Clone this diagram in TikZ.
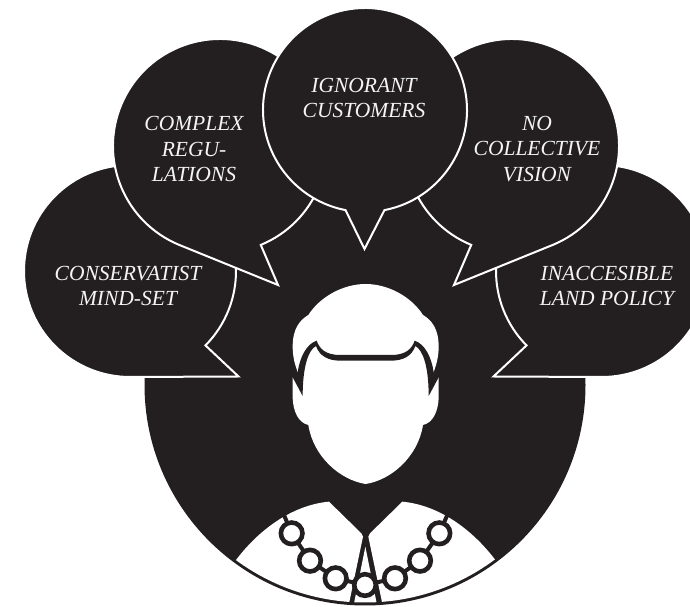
\documentclass[tikz,border=0pt]{standalone}
\usepackage{fontspec}
\setmainfont{Liberation Serif}
\definecolor{ink}{HTML}{231F20}
\definecolor{paper}{HTML}{F4F4F4}
\tikzset{
  bubble/.style={fill=ink,draw=white,line width=2pt,line join=miter,miter limit=20},
  label/.style={text=paper,align=center,inner sep=0pt,font=\itshape\fontsize{21.5}{25.6}\selectfont},
  bead/.style={fill=white,draw=ink,line width=4.6pt}
}
\begin{document}
\begin{tikzpicture}[x=1pt,y=1pt]
\useasboundingbox (0,0) rectangle (690,607);
% body
\fill[ink] (365,222) circle[radius=220.5pt];
% outer bubbles
\draw[bubble] (130,336) ++(-44.6:106pt) arc[start angle=-44.6,end angle=270,radius=106pt] -- (238.5,230.5) -- cycle;
\draw[bubble] (602,336) ++(224.6:106pt) arc[start angle=224.6,end angle=-90,radius=106pt] -- (493.5,230.5) -- cycle;
% middle bubbles
\draw[bubble] (220,461) ++(-67.6:107pt) arc[start angle=-67.6,end angle=247.3,radius=107pt] -- (278,322) -- cycle;
\draw[bubble] (512,461) ++(247.6:107pt) arc[start angle=247.6,end angle=-67.3,radius=107pt] -- (454,322) -- cycle;
% centre bubble
\draw[bubble] (365,497) ++(-79:102pt) arc[start angle=-79,end angle=259,radius=102pt] -- (364.5,358) -- cycle;
% labels
\node[label] (cons) at (128,321) {CONSERVATIST\\MIND-SET};
\node[label] (comp) at (194,458) {COMPLEX\\REGU-\\LATIONS};
\node[label] (igno) at (364,509) {IGNORANT\\CUSTOMERS};
\node[label] (coll) at (537,458) {NO\\COLLECTIVE\\VISION};
\node[label] (land) at (607,321) {INACCESIBLE\\LAND POLICY};
% person: coordinates follow a 3x grid
\begin{scope}
\clip (365,222) circle[radius=217.5pt];
\begin{scope}[shift={(200,337)},x=0.33333pt,y=-0.33333pt]
\fill[white] (387,695) .. controls (280,705) and (180,775) .. (108,870) -- (80,900) -- (80,1020) -- (443,1020) -- (489,800) -- (484,790) -- cycle;
\fill[white] (607,695) .. controls (714,705) and (814,775) .. (886,870) -- (914,900) -- (914,1020) -- (551,1020) -- (505,800) -- (510,790) -- cycle;
\fill[white] (496,830) -- (458,1020) -- (534,1020) -- cycle;
\end{scope}
\end{scope}
\begin{scope}[shift={(200,337)},x=0.33333pt,y=-0.33333pt]
% necklace
\draw[ink,line width=4pt] (252,735) -- (275,790) -- (330,872) -- (407,925) -- (495,945) -- (585,925) -- (660,872) -- (718,790) -- (742,735);
\foreach \bx/\by/\bn in {275/790/a,330/872/b,407/925/c,495/945/d,585/925/e,660/872/f,718/790/g}
  \draw[bead] (\bx,\by) circle[radius=10.8pt];
% head
\fill[white] (497,42)
  .. controls (430,42) and (360,80) .. (325,135)
  .. controls (300,150) and (278,175) .. (278,230)
  .. controls (278,260) and (285,285) .. (293,306)
  -- (278,322) -- (278,385)
  .. controls (280,425) and (295,458) .. (325,465)
  .. controls (340,560) and (420,630) .. (497,642)
  .. controls (574,630) and (654,560) .. (669,465)
  .. controls (699,458) and (714,425) .. (716,385)
  -- (716,322) -- (701,306)
  .. controls (709,285) and (716,260) .. (716,230)
  .. controls (716,175) and (694,150) .. (669,135)
  .. controls (634,80) and (564,42) .. (497,42) -- cycle;
\fill[ink] (270,318) -- (293,306)
  .. controls (300,260) and (320,222) .. (350,212)
  .. controls (358,235) and (375,255) .. (420,255)
  -- (574,255)
  .. controls (619,255) and (636,235) .. (644,212)
  .. controls (674,222) and (694,260) .. (701,306)
  -- (724,318) -- (716,322) -- (686,378)
  .. controls (686,290) and (669,240) .. (646,228)
  .. controls (636,258) and (609,272) .. (574,272)
  -- (420,272)
  .. controls (385,272) and (358,258) .. (348,228)
  .. controls (325,240) and (308,290) .. (308,378)
  -- (278,322) -- cycle;
\end{scope}
\end{tikzpicture}
\end{document}
